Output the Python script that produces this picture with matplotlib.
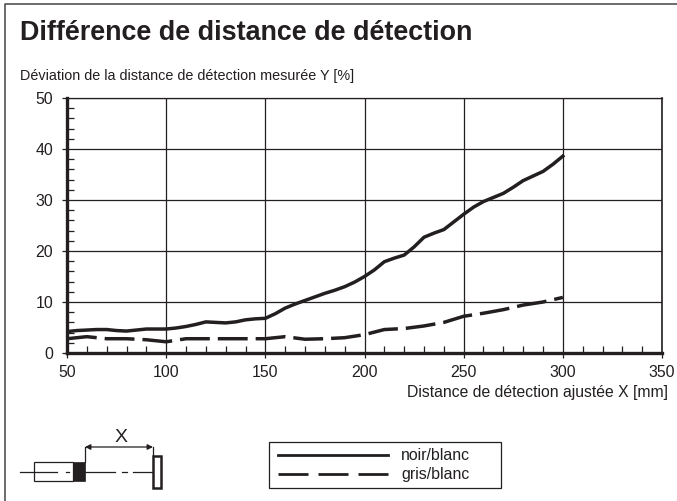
from matplotlib import pyplot as plt
from matplotlib.patches import Rectangle

plt.rcParams['font.family'] = ['Liberation Sans', 'DejaVu Sans']

x_noir = [50, 55, 60, 65, 70, 75, 80, 85, 90, 95, 100, 105, 110, 115, 120, 125, 130, 135, 140, 145,
          150, 155, 160, 165, 170, 175, 180, 185, 190, 195, 200, 205, 210, 215, 220, 225, 230, 235,
          240, 245, 250, 255, 260, 265, 270, 275, 280, 285, 290, 295, 300]
noir_blanc = [4.2, 4.4, 4.5, 4.6, 4.6, 4.4, 4.3, 4.5, 4.7, 4.7, 4.7, 4.9, 5.2, 5.6, 6.1, 6.0, 5.9, 6.1, 6.5, 6.7,
              6.8, 7.7, 8.8, 9.6, 10.3, 11.0, 11.7, 12.3, 13.0, 13.9, 15.0, 16.3, 17.9, 18.6, 19.2, 20.8, 22.7, 23.5,
              24.2, 25.7, 27.2, 28.6, 29.7, 30.5, 31.3, 32.5, 33.8, 34.7, 35.6, 37.0, 38.6]
x_gris = [50, 60, 70, 80, 90, 100, 110, 120, 130, 140, 150, 160, 170, 180, 190, 200,
          210, 220, 230, 240, 250, 260, 270, 280, 290, 300]
gris_blanc = [2.8, 3.2, 2.8, 2.8, 2.6, 2.2, 2.8, 2.8, 2.8, 2.8, 2.8, 3.2, 2.7, 2.8, 3.0, 3.6,
              4.6, 4.8, 5.3, 6.0, 7.2, 7.8, 8.5, 9.4, 10.0, 10.9]
x_ticks = [50, 100, 150, 200, 250, 300, 350]
y_ticks = [0, 10, 20, 30, 40, 50]

W, H = 677, 501
ink = '#231f20'
f = plt.figure(figsize=(W / 100, H / 100), dpi=100)

# page overlay in pixel coordinates, for frame, texts and sensor sketch
page = f.add_axes([0, 0, 1, 1])
page.set_xlim(0, W)
page.set_ylim(H, 0)
page.axis('off')
page.plot([5, 5, W], [H, 4, 4], color='#444444', lw=1.1)
page.text(20, 32.5, "Différence de distance de détection", fontsize=19.4, fontweight='bold',
          color=ink, va='center')
page.text(20, 76, "Déviation de la distance de détection mesurée Y [%]", fontsize=10.4,
          color=ink, va='center')
page.text(668, 392, "Distance de détection ajustée X [mm]", fontsize=11.3, color=ink,
          va='center', ha='right')

# sensor sketch
for seg in [(20, 57), (66, 69), (85, 115), (122, 127), (133, 152)]:
    page.plot(seg, [472, 472], color=ink, lw=0.9)
page.add_patch(Rectangle((34, 462), 39, 19, fill=False, ec=ink, lw=0.9))
page.add_patch(Rectangle((73, 462), 12, 19, fc=ink, ec=ink, lw=0.5))
page.add_patch(Rectangle((152.5, 455.5), 8, 32, fill=False, ec=ink, lw=1.8))
page.plot([85, 85], [447, 462], color=ink, lw=0.9)
page.plot([153, 153], [447, 455], color=ink, lw=0.9)
page.annotate('', xy=(85, 447), xytext=(153, 447),
              arrowprops=dict(arrowstyle='<|-|>', color=ink, lw=0.9, shrinkA=0, shrinkB=0,
                              mutation_scale=8))
page.text(121, 438, "X", fontsize=14, color=ink, ha='center', va='center')

# legend box
page.add_patch(Rectangle((269, 442), 232, 46, fill=False, ec=ink, lw=0.9))
page.plot([278, 388], [455, 455], color=ink, lw=2.0)
page.plot([278, 388], [474, 474], color=ink, lw=2.0, dashes=(10.8, 3.6))
page.text(401, 456, "noir/blanc", fontsize=11.4, color=ink, va='center')
page.text(401, 475, "gris/blanc", fontsize=11.4, color=ink, va='center')

ax = f.add_axes([67 / W, 1 - 353 / H, (662 - 67) / W, (353 - 98) / H])
ax.patch.set_alpha(0)
ax.set_xlim(50, 350)
ax.set_ylim(0, 50)
ax.plot(x_noir, noir_blanc, color=ink, lw=2.5, solid_joinstyle='round')
ax.plot(x_gris, gris_blanc, color=ink, lw=2.5, dashes=(8.6, 2.3), dash_joinstyle='round')
ax.grid(True, which='major', color=ink, lw=0.9)
ax.set_axisbelow(True)
ax.set_xticks(x_ticks)
ax.set_yticks(y_ticks)
ax.set_xticks(range(50, 351, 10), minor=True)
ax.set_yticks(range(0, 51, 2), minor=True)
ax.tick_params(axis='both', which='major', length=3.4, width=0.9, color=ink, labelcolor=ink,
               labelsize=11.4)
ax.tick_params(axis='y', which='major', pad=6.5)
ax.tick_params(axis='x', which='major', pad=5)
ax.tick_params(axis='both', which='minor', direction='in', length=5.2, width=0.9, color=ink)
for side in ax.spines:
    ax.spines[side].set_color(ink)
    ax.spines[side].set_linewidth(0.9)
ax.spines['left'].set_linewidth(2.4)
ax.spines['bottom'].set_linewidth(2.4)
ax.spines['right'].set_linewidth(1.2)

f.savefig("out.png", dpi=100)
